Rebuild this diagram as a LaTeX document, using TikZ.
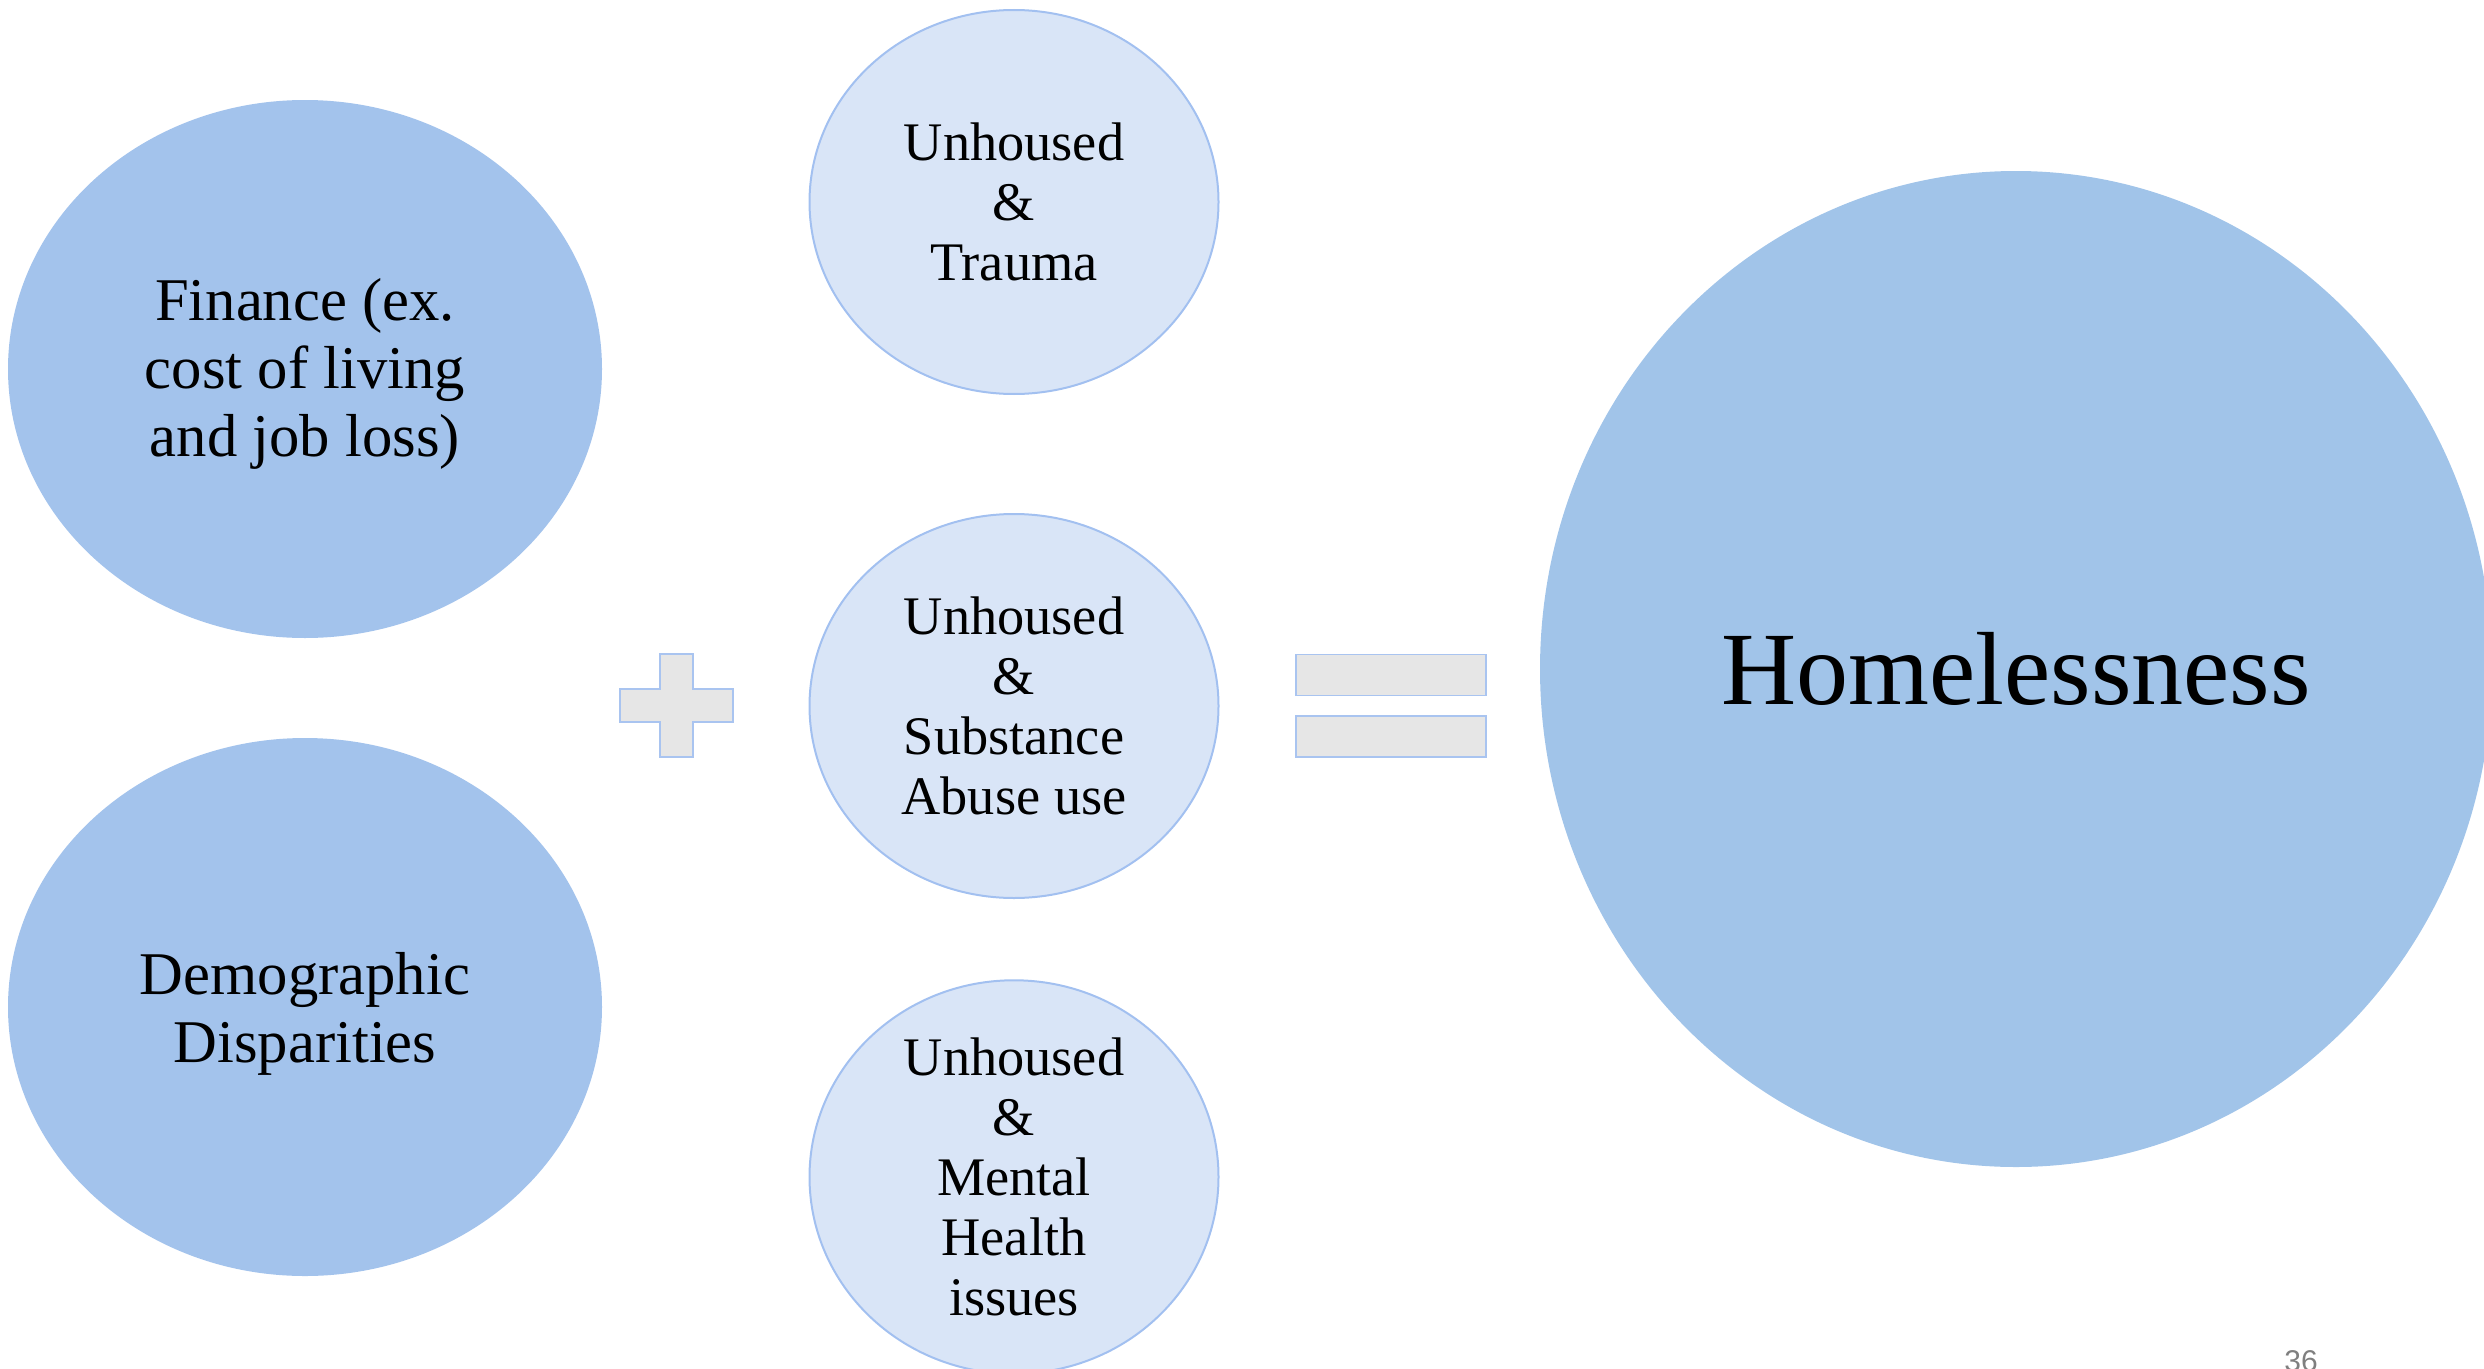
\documentclass[tikz,border=0pt]{standalone}
\usepackage{fontspec}
\setmainfont{Liberation Serif}
\newfontfamily\numfont{Liberation Sans}
\usetikzlibrary{shapes.geometric}
\definecolor{bigfill}{HTML}{A3C3EC}
\definecolor{homefill}{HTML}{A1C4E9}
\definecolor{smallfill}{HTML}{D9E5F7}
\definecolor{smallline}{HTML}{A2C0F0}
\definecolor{signfill}{HTML}{E6E6E6}
\definecolor{signline}{HTML}{A9C4F0}
\definecolor{pagegray}{HTML}{7F7F7F}
\tikzset{
  cause/.style={ellipse, fill=bigfill, draw=none, inner sep=0pt,
    minimum width=178.2pt, minimum height=161.4pt},
  causetext/.style={align=center, inner sep=0pt,
    font=\fontsize{18.2}{20.4}\selectfont},
  factor/.style={ellipse, fill=smallfill, draw=smallline, line width=0.6pt, inner sep=0pt,
    minimum width=122.7pt, minimum height=115.2pt, align=center,
    font=\fontsize{16.3}{18}\selectfont},
  result/.style={ellipse, fill=homefill, draw=none, inner sep=0pt,
    minimum width=285.6pt, minimum height=298.8pt, align=center,
    font=\fontsize{31.2}{34}\selectfont},
  signbar/.style={rectangle, fill=signfill, draw=signline, line width=0.5pt, inner sep=0pt,
    minimum width=57pt, minimum height=12.3pt},
}
\begin{document}
\begin{tikzpicture}[x=0.3pt, y=-0.3pt]
\useasboundingbox (0,0) rectangle (2484,1368);

% left-hand causes
\node[cause] (finance) at (305,369) {};
\node[causetext] (financetext) at (305,374) {Finance (ex.\\cost of living\\and job loss)};
\node[cause] (demo) at (305,1007) {};
\node[causetext] (demotext) at (305,1014) {Demographic\\Disparities};

% plus sign
\draw[fill=signfill, draw=signline, line width=0.5pt]
  (660,654) -- (693,654) -- (693,689) -- (733,689) -- (733,722) -- (693,722)
  -- (693,757) -- (660,757) -- (660,722) -- (620,722) -- (620,689) -- (660,689) -- cycle;
\coordinate (plus) at (676,705);

% middle factors
\node[factor] (trauma) at (1014,202) {Unhoused\\\&\\Trauma};
\node[factor] (substance) at (1014,706) {Unhoused\\\&\\Substance\\Abuse use};
\node[factor] (mental) at (1014,1177) {Unhoused\\\&\\Mental\\Health\\issues};

% equals sign
\node[signbar] (eqtop) at (1391,675) {};
\node[signbar] (eqbot) at (1391,736.5) {};

% outcome
\node[result] (home) at (2016,669) {Homelessness};

% page number
\node[font=\numfont\fontsize{9}{10}\selectfont, text=pagegray, anchor=base] (page) at (2301,1371) {36};
\end{tikzpicture}
\end{document}
